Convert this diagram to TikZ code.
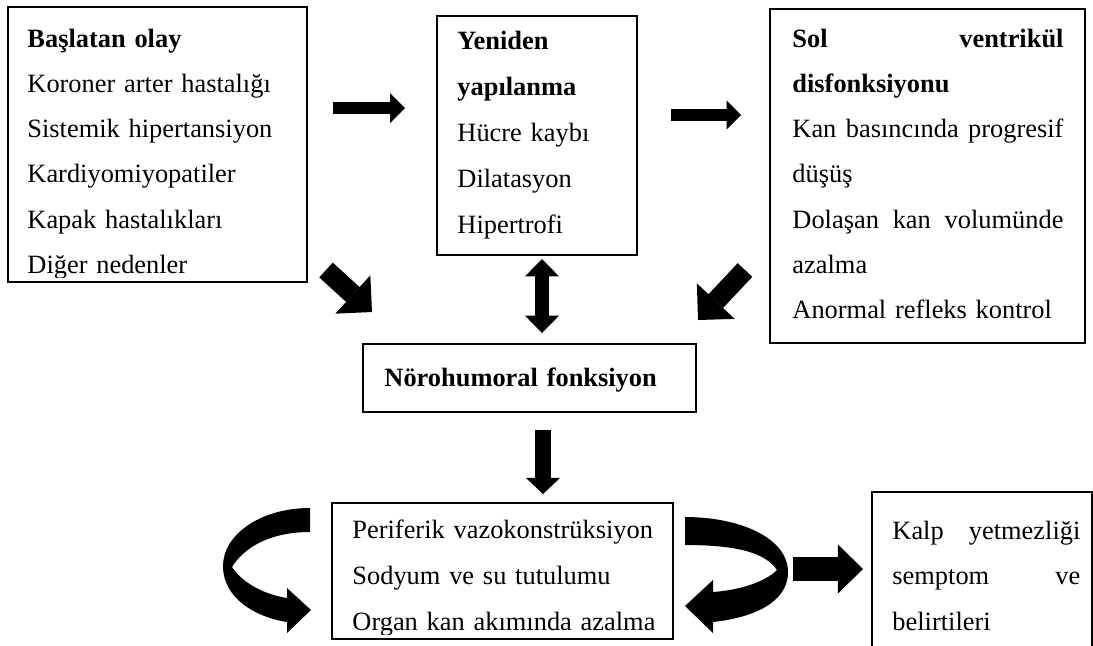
\documentclass[tikz,border=0pt]{standalone}
\usepackage{fontspec}
\setmainfont{Liberation Serif}
\usetikzlibrary{arrows.meta,fit}

\newcommand{\fullline}[1]{\leavevmode\hbox to\hsize{#1}}

\begin{document}
\begin{tikzpicture}[x=0.4545pt, y=-0.4545pt,
    box/.style={draw, inner sep=0pt, line width=0.7pt},
    txt/.style={anchor=base west, inner sep=0pt, align=left, font=\fontsize{12}{20.6}\selectfont},
    wide/.style={font=\fontsize{12}{21}\selectfont},
    fat/.style n args={3}{line width=#1, -{Triangle[width=#2, length=#3, line width=0pt]}},
    fatboth/.style n args={3}{line width=#1, {Triangle[width=#2, length=#3, line width=0pt]}-{Triangle[width=#2, length=#3, line width=0pt]}}]
    \clip (0,0) rectangle (1093,645);

    \node[box, fit={(8,7) (307,282)}] (start) {};
    \node[box, fit={(437,16) (637,255)}] (remodel) {};
    \node[box, fit={(770,9) (1085,343)}] (lvd) {};
    \node[box, fit={(363,344) (696,412)}] (neuro) {};
    \node[box, fit={(332,503) (673,639)}] (periph) {};
    \node[box, fit={(872,492) (1092,700)}] (hf) {};

    \begin{scope}
        \clip (start.north west) rectangle ([yshift=2.3pt]start.south east);
        \node[txt, text width=122pt] (starttxt) at (27,47) {\textbf{Başlatan olay}\\
            Koroner arter hastalığı\\ Sistemik hipertansiyon\\ Kardiyomiyopatiler\\
            Kapak hastalıkları\\ Diğer nedenler};
    \end{scope}
    \node[txt, wide, text width=77pt] (remodeltxt) at (457,49) {\textbf{Yeniden}\\
        \textbf{yapılanma}\\ Hücre kaybı\\ Dilatasyon\\ Hipertrofi};
    \node[txt, text width=123.2pt] (lvdtxt) at (792,47) {\fullline{\textbf{Sol}\hfill\textbf{ventrikül}}\\
        \textbf{disfonksiyonu}\\ \fullline{Kan\hfill basıncında\hfill progresif}\\ düşüş\\
        \fullline{Dolaşan\hfill kan\hfill volumünde}\\ azalma\\ Anormal refleks kontrol};
    \node[txt, text width=140pt] (neurotxt) at (384,386) {\textbf{Nörohumoral fonksiyon}};
    \begin{scope}
        \clip (periph.north west) rectangle ([yshift=2.3pt]periph.south east);
        \node[txt, wide, text width=145pt] (periphtxt) at (352,538) {Periferik vazokonstrüksiyon\\
            Sodyum ve su tutulumu\\ Organ kan akımında azalma};
    \end{scope}
    \node[txt, text width=85.4pt, font=\fontsize{12}{20.7}\selectfont] (hftxt) at (892,539)
        {\fullline{Kalp\hfill yetmezliği}\\ \fullline{semptom\hfill ve}\\ belirtileri};

    % block arrows
    \coordinate (r1a) at (333,108);
    \coordinate (r1b) at (405,108);
    \coordinate (r2a) at (671,115);
    \coordinate (r2b) at (741,115);
    \coordinate (d1a) at (326,270);
    \coordinate (d1b) at (372,312);
    \coordinate (d2a) at (745,270);
    \coordinate (d2b) at (698,320);
    \coordinate (va) at (542,259);
    \coordinate (vb) at (542,333);
    \coordinate (da) at (543,430);
    \coordinate (db) at (543,494);
    \coordinate (r3a) at (793,569);
    \coordinate (r3b) at (863,569);

    \draw[fat={5.5pt}{13.6pt}{6.8pt}] (r1a) -- (r1b);
    \draw[fat={5.5pt}{13pt}{6.5pt}] (r2a) -- (r2b);
    \draw[fat={9.1pt}{23.6pt}{11.8pt}] (d1a) -- (d1b);
    \draw[fat={9.1pt}{23.6pt}{11.8pt}] (d2a) -- (d2b);
    \draw[fatboth={6.4pt}{15.5pt}{7.9pt}] (va) -- (vb);
    \draw[fat={7.3pt}{15.5pt}{7.3pt}] (da) -- (db);
    \draw[fat={10.9pt}{22.3pt}{11.4pt}] (r3a) -- (r3b);

    % curved arrows
    \fill (310,508) .. controls (260,508) and (223,535) .. (223,566)
        .. controls (223,598) and (255,617) .. (287,622) -- (287,633) -- (311,610) -- (287,588)
        -- (287,598) .. controls (262,594) and (242,582) .. (232,567)
        .. controls (245,546) and (272,532) .. (310,532) -- cycle;
    \fill (685,517) .. controls (740,517) and (788,538) .. (788,572)
        .. controls (788,604) and (750,618) .. (713,622) -- (713,633) -- (685,606) -- (713,580)
        -- (713,592) .. controls (740,590) and (765,582) .. (777,570)
        .. controls (765,552) and (735,545) .. (685,545) -- cycle;
\end{tikzpicture}
\end{document}
